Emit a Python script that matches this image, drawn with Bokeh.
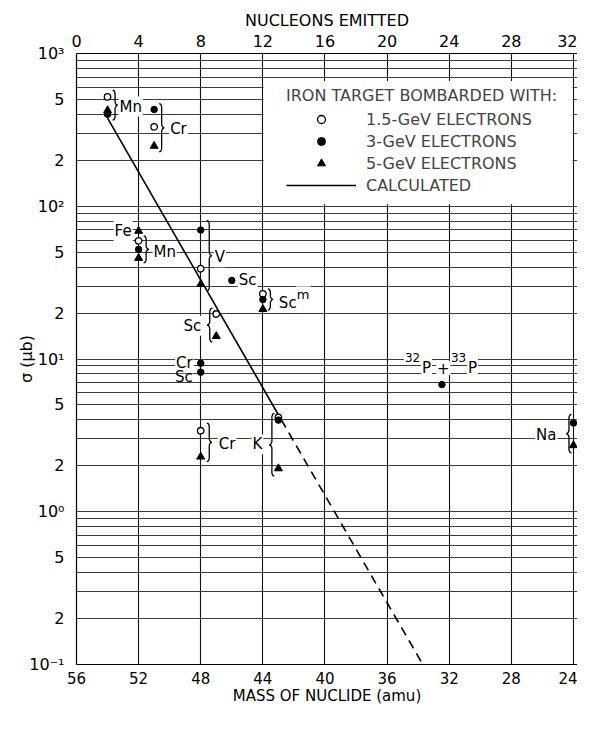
import math
from bokeh.plotting import figure
from bokeh.models import (Range1d, LinearAxis, FixedTicker, Legend, LegendItem,
                          BoxAnnotation, ColumnDataSource)
from bokeh.core.properties import value
from bokeh.embed import file_html
from bokeh.resources import INLINE

# ---------------- data ----------------
# 1.5-GeV electrons (open circles)
mass_1p5 = [54, 51, 52, 48, 44, 47, 48, 43]
sigma_1p5 = [520, 331, 59.4, 39.0, 26.7, 19.7, 3.39, 4.15]
# 3-GeV electrons (filled circles)
mass_3 = [54, 51, 52, 48, 46, 44, 48, 48, 43, 32.47, 24]
sigma_3 = [400, 430, 52.2, 69.8, 32.7, 24.5, 9.38, 8.2, 3.98, 6.8, 3.81]
# 5-GeV electrons (triangles)
mass_5 = [54, 51, 52, 52, 48, 44, 47, 48, 43, 24]
sigma_5 = [424, 248, 68.9, 45.8, 30.9, 21.2, 14.1, 2.29, 1.92, 2.72]
# calculated curve (solid part and dashed extrapolation)
calc_mass = [54, 43.3]
calc_sigma = [377, 4.87]
calc_ext_mass = [43.3, 33.7]
calc_ext_sigma = [4.87, 0.1]

# axes
mass_ticks = [56, 52, 48, 44, 40, 36, 32, 28, 24]
nucleon_ticks = [0, 4, 8, 12, 16, 20, 24, 28, 32]
sigma_ticks = [0.1, 0.2, 0.5, 1, 2, 5, 10, 20, 50, 100, 200, 500, 1000]
sigma_tick_labels = ["10⁻¹", "2", "5", "10⁰", "2", "5", "10¹", "2", "5",
                     "10²", "2", "5", "10³"]

# nuclide labels (left-aligned, right of anchor)
lab_l_text = ["Mn", "Cr", "Mn", "V", "Sc", "Sc", "Cr"]
lab_l_mass = [54, 51, 52, 48, 46, 44, 48]
lab_l_sigma = [449, 321, 50, 46.4, 32.7, 23.4, 2.76]
lab_l_dx = [11, 15, 14, 13, 6, 15, 17]
lab_l_bg = [1, 1, 1, 1, 1, 1, 1]
# nuclide labels (right-aligned, left of anchor)
lab_r_text = ["Fe", "Sc", "Cr", "Sc", "K", "Na"]
lab_r_mass = [52, 47, 48, 48, 43, 24]
lab_r_sigma = [68.9, 16.5, 9.38, 7.6, 2.76, 3.2]
lab_r_dx = [-6, -14, -7, -7, -15, -16]
lab_r_bg = [1, 1, 1, 0, 1, 1]
# superscript pieces
sup_text = ["m", "32", "P", "+", "33", "P"]
sup_mass = [44, 32.47, 32.47, 32.47, 32.47, 32.47]
sup_sigma = [26.3, 8.72, 8.72, 8.72, 8.72, 8.72]
sup_dx = [33, -38, -21, -6, 8, 25]
sup_dy = [0, -11, 0, 0, -11, 0]
sup_fs = ["13px", "12px", "15px", "15px", "12px", "15px"]

# grouping braces
brace_mass = [54, 51, 52, 48, 44, 47, 48, 43, 24]
brace_top = [575, 469, 64, 80.7, 28.8, 21.5, 3.81, 4.4, 4.34]
brace_bottom = [366, 227, 42.6, 27.9, 20.9, 12.9, 2.13, 1.71, 2.43]
brace_dx = [5, 5, 5, 6, 5, -4, 6, -4, -2]
brace_dir = [1, 1, 1, 1, 1, -1, 1, -1, -1]

# ---------------- figure ----------------
W, H = 577, 707
BL, BR, BT, BB = 76, 0, 53, 36
X_END = 23.74
FRAME_W = W - BL - BR
FRAME_H = H - BT - BB
p = figure(width=W, height=H, x_range=Range1d(56, X_END), y_range=Range1d(0.1, 1000),
           y_axis_type="log", output_backend="svg", toolbar_location=None,
           min_border_left=BL, min_border_right=BR, min_border_top=BT,
           min_border_bottom=BB, background_fill_color="white")
p.outline_line_color = None
bottom = p.below[0]
left = p.left[0]
p.extra_x_ranges = {"nuc": Range1d(0, 56 - X_END)}
top = LinearAxis(x_range_name="nuc", axis_label="NUCLEONS EMITTED",
                 ticker=FixedTicker(ticks=nucleon_ticks))
p.add_layout(top, "above")

FONT = "DejaVu Sans"
bottom.axis_label = "MASS OF NUCLIDE (amu)"
bottom.ticker = FixedTicker(ticks=mass_ticks)
left.axis_label = "σ (μb)"
left.ticker = FixedTicker(ticks=sigma_ticks)
left.major_label_overrides = dict(zip(sigma_ticks, sigma_tick_labels))

for ax in (bottom, top, left):
    ax.major_tick_line_color = None
    ax.minor_tick_line_color = None
    ax.axis_line_color = "black"
    ax.axis_line_width = 1.2
    ax.major_label_text_font = FONT
    ax.major_label_text_font_size = "16px"
    ax.major_label_text_color = "black"
    ax.axis_label_text_font = FONT
    ax.axis_label_text_font_size = "16px"
    ax.axis_label_text_font_style = "normal"
    ax.axis_label_text_color = "black"
bottom.major_label_text_font_size = "15px"
bottom.axis_label_text_font_size = "15px"
bottom.major_label_standoff = 1
bottom.axis_label_standoff = 0
top.major_label_standoff = 1
top.axis_label_standoff = 2
left.major_label_standoff = 6
left.axis_label_standoff = -10

p.xgrid.ticker = FixedTicker(ticks=mass_ticks[1:])
p.xgrid.grid_line_color = "#111111"
p.xgrid.grid_line_width = 1.1
p.ygrid.ticker = FixedTicker(ticks=[k * 10.0 ** n for n in (-1, 0, 1, 2) for k in range(1, 10)] + [1000])
p.ygrid.grid_line_color = "#3c3c3c"
p.ygrid.grid_line_width = 1.0

# blank legend area
p.add_layout(BoxAnnotation(left=43.95, right=24.06, top=660, bottom=103,
                           fill_color="white", fill_alpha=1.0, line_color=None))

# labels
txt = dict(text_font=value(FONT), text_font_size="15px", text_color="black",
           text_baseline="middle", background_fill_color="white", padding=1)
src_l = ColumnDataSource(dict(x=lab_l_mass, y=lab_l_sigma, t=lab_l_text,
                              dx=lab_l_dx, bg=lab_l_bg))
src_r = ColumnDataSource(dict(x=lab_r_mass, y=lab_r_sigma, t=lab_r_text,
                              dx=lab_r_dx, bg=lab_r_bg))
p.text(x="x", y="y", text="t", x_offset="dx", background_fill_alpha="bg",
       text_align="left", source=src_l, **txt)
p.text(x="x", y="y", text="t", x_offset="dx", background_fill_alpha="bg",
       text_align="right", source=src_r, **txt)
sup_src = ColumnDataSource(dict(x=sup_mass, y=sup_sigma, t=sup_text, dx=sup_dx,
                                dy=sup_dy, fs=sup_fs))
p.text(x="x", y="y", text="t", x_offset="dx", y_offset="dy", text_font_size="fs",
       text_font=value(FONT), text_color="black", text_baseline="middle",
       text_align="left", background_fill_color="white", padding=1, source=sup_src)

# braces
PX_AMU = FRAME_W / (56 - X_END)
PX_DEC = FRAME_H / 4.0


def brace_path(m, top_v, bot_v, dx, d, w=5):
    lt, lb = math.log10(top_v), math.log10(bot_v)
    lm = (lt + lb) / 2
    k = 1.0 / PX_DEC
    spine = dx + d * w / 2
    tip = dx + d * w
    px = [dx, dx + d * w * 0.3, spine, spine, spine + d * w * 0.2, tip,
          spine + d * w * 0.2, spine, spine, dx + d * w * 0.3, dx]
    py = [lt, lt - 0.5 * k, lt - 3 * k, lm + 3 * k, lm + 0.8 * k, lm,
          lm - 0.8 * k, lm - 3 * k, lb + 3 * k, lb + 0.5 * k, lb]
    return [m - v / PX_AMU for v in px], [10 ** v for v in py]


bx, by = [], []
for m, t, b, dx, d in zip(brace_mass, brace_top, brace_bottom, brace_dx, brace_dir):
    xs, ys = brace_path(m, t, b, dx, d)
    bx.append(xs)
    by.append(ys)
p.multi_line(xs=bx, ys=by, line_color="black", line_width=1.3)

# calculated curve
r_calc = p.line(calc_mass, calc_sigma, line_color="black", line_width=1.6)
p.line(calc_ext_mass, calc_ext_sigma, line_color="black", line_width=1.6,
       line_dash="9 6")

# data points
r_open = p.scatter(mass_1p5, sigma_1p5, marker="circle", size=6.5,
                   fill_color="white", line_color="black", line_width=1.3)
r_fill = p.scatter(mass_3, sigma_3, marker="circle", size=6.5,
                   fill_color="black", line_color="black")
r_tri = p.scatter(mass_5, sigma_5, marker="triangle", size=8,
                  fill_color="black", line_color="black")

LEG_H = 120
LEG_TOP = 30  # below the frame top
legend = Legend(items=[LegendItem(label="1.5-GeV ELECTRONS", renderers=[r_open]),
                       LegendItem(label="3-GeV ELECTRONS", renderers=[r_fill]),
                       LegendItem(label="5-GeV ELECTRONS", renderers=[r_tri]),
                       LegendItem(label="CALCULATED", renderers=[r_calc])],
                title="IRON TARGET BOMBARDED WITH:",
                location=(210, FRAME_H - LEG_TOP - LEG_H))
legend.title_text_font = FONT
legend.title_text_font_size = "16px"
legend.title_text_font_style = "normal"
legend.title_standoff = 3
legend.label_text_font = FONT
legend.label_text_font_size = "16px"
legend.label_height = 22
legend.glyph_height = 20
legend.glyph_width = 70
legend.label_standoff = 10
legend.spacing = 0
legend.padding = 5
legend.margin = 0
legend.background_fill_alpha = 0
legend.border_line_color = None
p.add_layout(legend)

open("out.html", "w").write(file_html(p, INLINE))
